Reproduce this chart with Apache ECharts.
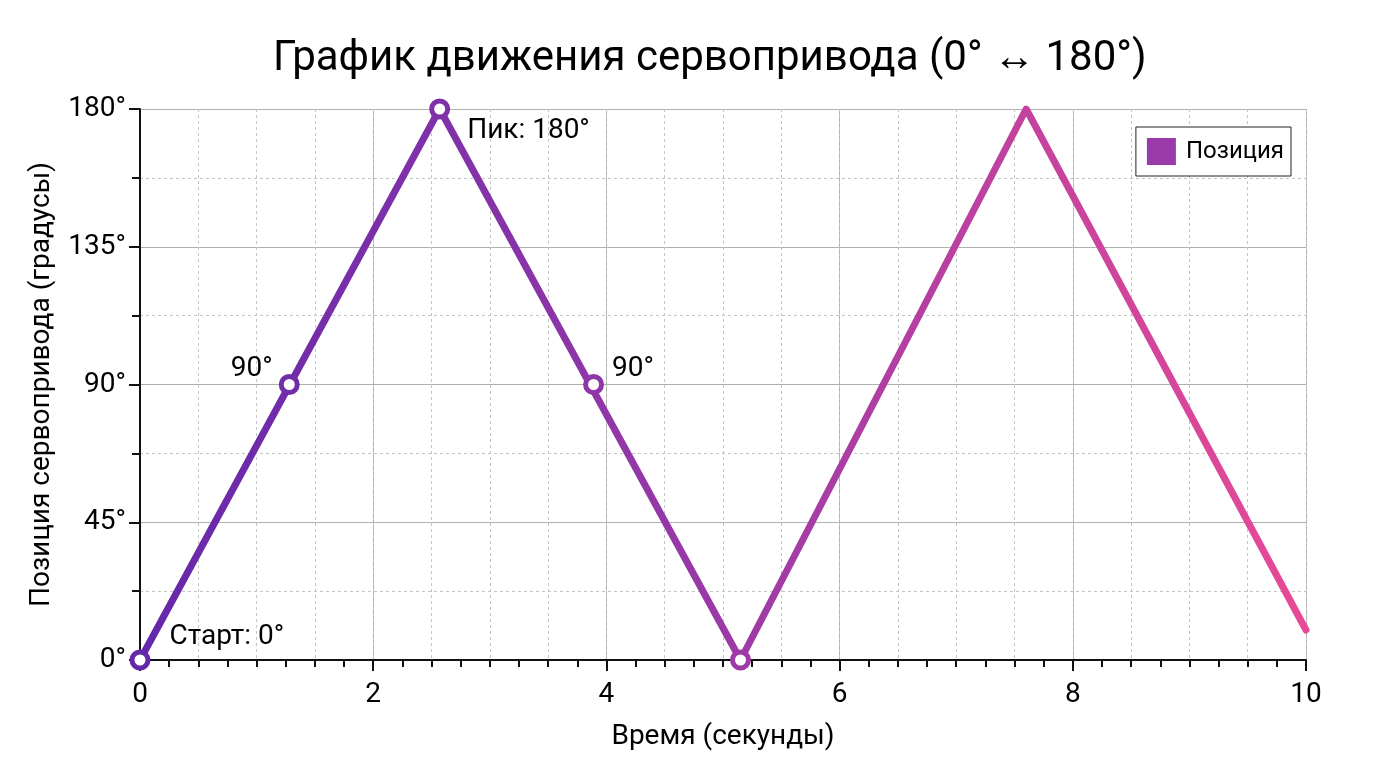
<!DOCTYPE html>
<html>
<head>
<meta charset="utf-8">
<script src="https://cdn.jsdelivr.net/npm/echarts@6/dist/echarts.min.js"></script>
<style>
html,body{margin:0;padding:0;background:#fff;}
#c{width:1376px;height:768px;}
</style>
</head>
<body>
<div id="c"></div>
<script>
// Data
const seriesName = 'Позиция';
const timeValues = [0, 2.57, 5.15, 7.60, 10];
const positionValues = [0, 180, 0, 180, 9.8];
const markerTimes = [0, 1.28, 2.57, 3.89, 5.15];
const markerValues = [0, 90, 180, 90, 0];
const markerLabels = ['Старт: 0°', '90°', 'Пик: 180°', '90°', ''];
const xTickValues = [0, 2, 4, 6, 8, 10];

const FONT = 'Roboto, "Noto Sans", sans-serif';
const labelPos = [
  {position: 'right', offset: [14, -23]},
  {position: 'left', offset: [-1, -16]},
  {position: 'right', offset: [12, 22]},
  {position: 'right', offset: [3, -16]},
  {position: 'right', offset: [0, 0]}
];
function lerpColor(t) {
  const stops = [[0, [100, 40, 170]], [0.5, [155, 58, 167]], [1, [232, 74, 150]]];
  let a = stops[0], b = stops[1];
  if (t > 0.5) { a = stops[1]; b = stops[2]; }
  const u = (t - a[0]) / (b[0] - a[0]);
  const c = a[1].map((v, i) => Math.round(v + (b[1][i] - v) * u));
  return 'rgb(' + c.join(',') + ')';
}
const lineData = timeValues.map((t, i) => [t, positionValues[i]]);
const markerData = markerTimes.map((t, i) => ({
  value: [t, markerValues[i]],
  itemStyle: {borderColor: lerpColor(t / 10)},
  label: Object.assign({show: markerLabels[i] !== '', formatter: markerLabels[i]}, labelPos[i])
}));

const chart = echarts.init(document.getElementById('c'));
chart.setOption({
  animation: false,
  backgroundColor: '#fff',
  textStyle: {fontFamily: FONT},
  title: {
    text: 'График движения сервопривода (0° ↔ 180°)',
    left: 268, top: 33,
    textStyle: {fontFamily: FONT, fontSize: 42, fontWeight: 'normal', color: '#000'}
  },
  legend: {
    right: 85, top: 127,
    orient: 'vertical',
    backgroundColor: '#fff',
    borderColor: '#222', borderWidth: 1, borderRadius: 0,
    padding: [11, 7, 11, 11],
    icon: 'rect', itemWidth: 29, itemHeight: 27, itemGap: 8,
    textStyle: {fontFamily: FONT, fontSize: 24, color: '#000', padding: [0, 0, 0, 5]},
    data: [{name: seriesName, itemStyle: {color: '#9b3aab'}}]
  },
  grid: {left: 140, right: 70, top: 109, bottom: 108, containLabel: false},
  xAxis: [{
    type: 'value', min: 0, max: 10, interval: 2,
    name: 'Время (секунды)', nameLocation: 'middle', nameGap: 63,
    nameTextStyle: {fontFamily: FONT, fontSize: 28, color: '#000'},
    axisLine: {show: true, onZero: false, lineStyle: {color: '#111', width: 2}},
    axisTick: {show: true, length: 11, lineStyle: {color: '#111', width: 2}},
    minorTick: {show: true, splitNumber: 8, length: 7, lineStyle: {color: '#111', width: 2}},
    axisLabel: {fontFamily: FONT, fontSize: 28, color: '#000', margin: 21,
      customValues: xTickValues},
    splitLine: {show: true, lineStyle: {color: '#b0b0b0', width: 1}},
    minorSplitLine: {show: false}
  }, {
    type: 'value', min: 0, max: 10, interval: 0.5, position: 'bottom',
    axisLine: {show: false}, axisTick: {show: false}, axisLabel: {show: false},
    splitLine: {show: true, lineStyle: {color: '#c4c4c4', width: 1, type: [3, 3]}}
  }],
  yAxis: {
    type: 'value', min: 0, max: 180, interval: 45,
    name: 'Позиция сервопривода (градусы)', nameLocation: 'middle', nameGap: 84,
    nameTextStyle: {fontFamily: FONT, fontSize: 28, color: '#000'},
    axisLine: {show: true, lineStyle: {color: '#111', width: 2}},
    axisTick: {show: true, length: 11, lineStyle: {color: '#111', width: 2}},
    minorTick: {show: true, splitNumber: 2, length: 8, lineStyle: {color: '#111', width: 2}},
    axisLabel: {fontFamily: FONT, fontSize: 28, color: '#000', margin: 14, formatter: '{value}°'},
    splitLine: {show: true, lineStyle: {color: '#b0b0b0', width: 1}},
    minorSplitLine: {show: true, lineStyle: {color: '#c4c4c4', width: 1, type: [3, 3]}}
  },
  series: [{
    name: seriesName,
    type: 'line',
    data: lineData,
    showSymbol: false,
    lineStyle: {
      width: 7, cap: 'round', join: 'round',
      color: new echarts.graphic.LinearGradient(0, 0, 1, 0, [
        {offset: 0, color: '#6428aa'},
        {offset: 0.5, color: '#9b3aa7'},
        {offset: 1, color: '#e84a96'}
      ])
    },
    itemStyle: {color: '#9b3aab'},
    z: 3
  }, {
    name: 'markers',
    type: 'scatter',
    data: markerData,
    symbol: 'circle',
    symbolSize: 16,
    itemStyle: {color: '#fff', borderWidth: 5, opacity: 1},
    label: {fontFamily: FONT, fontSize: 28, color: '#000'},
    z: 5
  }]
});
</script>
</body>
</html>
